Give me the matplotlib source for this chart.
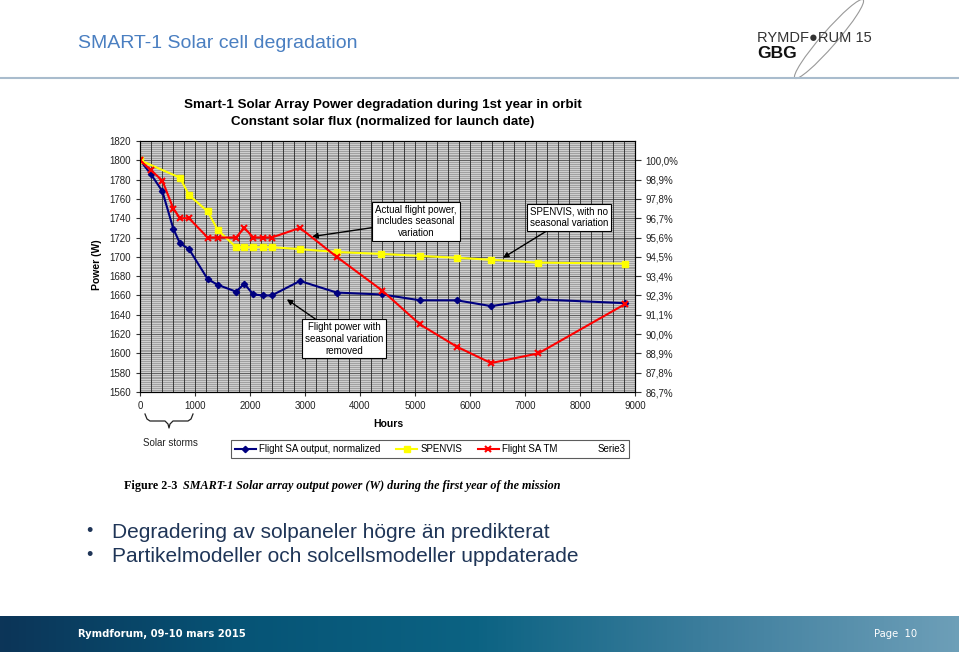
import matplotlib
matplotlib.use("Agg")
import matplotlib.pyplot as plt
import numpy as np
from matplotlib.lines import Line2D
from matplotlib.patches import Ellipse
from matplotlib.colors import LinearSegmentedColormap

plt.rcParams['font.family'] = ['Liberation Sans', 'DejaVu Sans']

# Data (hours, W)
hours = [0, 194, 406, 606, 727, 891, 1230, 1412, 1745, 1897, 2061, 2243, 2394,
         2909, 3576, 4406, 5091, 5758, 6382, 7242, 8818]
flight_norm = [1800, 1786, 1768, 1729, 1714, 1708, 1677, 1671, 1664, 1672, 1661,
               1660, 1660, 1675, 1663, 1661, 1655, 1655, 1649, 1656, 1652]
flight_tm = [1800, 1790, 1779, 1750, 1740, 1740, 1720, 1720, 1720, 1730, 1720,
             1720, 1720, 1730, 1700, 1665, 1630, 1607, 1590, 1600, 1651]
spenvis_hours = [0, 727, 891, 1230, 1412, 1745, 1897, 2061, 2243, 2394, 2909,
                 3576, 4390, 5085, 5758, 6382, 7242, 8818]
spenvis = [1800, 1782, 1764, 1747, 1728, 1710, 1710, 1710, 1710, 1710, 1708,
           1705, 1703, 1701, 1699, 1697, 1694, 1693]

left_ticks = list(range(1560, 1821, 20))
x_ticks = list(range(0, 9001, 1000))
right_ticks = list(range(1560, 1801, 20))
right_labels = ["86,7%", "87,8%", "88,9%", "90,0%", "91,1%", "92,3%", "93,4%",
                "94,5%", "95,6%", "96,7%", "97,8%", "98,9%", "100,0%"]

W, H = 959, 661
fig = plt.figure(figsize=(W / 100, H / 100), dpi=100)


def px(x, y):
    return x / W, 1 - y / H


# header
fig.text(*px(78, 44), "SMART-1 Solar cell degradation", fontsize=14,
         color='#4a7fc1', va='center', ha='left')
fig.add_artist(Line2D([0, 1], [1 - 78 / H] * 2, transform=fig.transFigure,
                      color='#a9bccd', lw=1.5))

# logo
fig.text(*px(757, 38), "RYMDF\u25cfRUM 15", fontsize=10.5, color='#333333',
         va='center', ha='left')
fig.text(*px(757, 53), "GBG", fontsize=12.5, color='#111111', va='center',
         ha='left', fontweight='bold')
ell = Ellipse((829, H - 39), 104, 15, angle=49, fill=False,
              edgecolor='#999999', lw=0.8, transform=None)
fig.add_artist(ell)

# chart title
fig.text(*px(383, 105), "Smart-1 Solar Array Power degradation during 1st year in orbit",
         fontsize=9.6, fontweight='bold', ha='center', va='center')
fig.text(*px(383, 122), "Constant solar flux (normalized for launch date)",
         fontsize=9.6, fontweight='bold', ha='center', va='center')

# plot
ax = fig.add_axes([140 / W, 1 - 392 / H, 495 / W, 251 / H])
ax.set_facecolor('#cfcfcf')
ax.set_xlim(0, 9000)
ax.set_ylim(1560, 1820)
for yv in np.arange(1560, 1821, 2):
    ax.axhline(yv, color='#858585', lw=0.45, zorder=0)
for yv in left_ticks:
    ax.axhline(yv, color='#555555', lw=0.6, zorder=0)
for xv in np.arange(0, 9001, 200):
    ax.axvline(xv, color='#262626', lw=0.6, zorder=0)

ax.plot(hours, flight_norm, color='#000080', lw=1.5, marker='D', ms=3.2,
        label='Flight SA output, normalized', zorder=3)
ax.plot(spenvis_hours, spenvis, color='#ffff00', lw=1.5, marker='s', ms=4.5,
        label='SPENVIS', zorder=3)
ax.plot(hours, flight_tm, color='#ff0000', lw=1.5, marker='x', ms=5, mew=1.5,
        label='Flight SA TM', zorder=3)

ax.set_xticks(x_ticks)
ax.set_yticks(left_ticks)
ax.tick_params(labelsize=7, length=3, color='#333333', labelcolor='#222222')
for s in ax.spines.values():
    s.set_color('#222222')
    s.set_linewidth(0.8)

ax2 = ax.twinx()
ax2.set_ylim(1560, 1820)
ax2.set_yticks(right_ticks)
ax2.set_yticklabels(right_labels)
ax2.tick_params(labelsize=7, length=4, color='#333333', labelcolor='#222222')

fig.text(*px(97, 265), "Power (W)", rotation=90, fontsize=7.5,
         fontweight='bold', ha='center', va='center')
fig.text(*px(388, 424), "Hours", fontsize=7.5, fontweight='bold',
         ha='center', va='center')

# annotations
box = dict(boxstyle='square,pad=0.3', fc='white', ec='black', lw=0.8)
arr = dict(arrowstyle='-|>', color='black', lw=1.0, mutation_scale=8,
           shrinkA=0, shrinkB=0)
ax.annotate("Actual flight power,\nincludes seasonal\nvariation",
            xy=(3130, 1721), xytext=(5020, 1737), fontsize=7,
            ha='center', va='center', bbox=box, arrowprops=arr, zorder=5)
ax.annotate("SPENVIS, with no\nseasonal variation",
            xy=(6600, 1699), xytext=(7800, 1741), fontsize=7,
            ha='center', va='center', bbox=box, arrowprops=arr, zorder=5)
ax.annotate("Flight power with\nseasonal variation\nremoved",
            xy=(2670, 1656), xytext=(3710, 1615), fontsize=7,
            ha='center', va='center', bbox=box, arrowprops=arr, zorder=5)

# solar storms brace
bx = [145, 147, 150, 165, 168, 169, 170, 173, 188, 191, 193]
by = [414, 419, 421, 421, 424, 428, 424, 421, 421, 419, 414]
fig.add_artist(Line2D([x / W for x in bx], [1 - y / H for y in by],
                      transform=fig.transFigure, color='#222222', lw=0.9))
fig.text(*px(170, 443), "Solar storms", fontsize=7, ha='center', va='center',
         color='#222222')

# legend
handles, labels = ax.get_legend_handles_labels()
handles.append(Line2D([], [], color='none'))
labels.append('Serie3')
leg = fig.legend(handles, labels, loc='center', bbox_to_anchor=px(430, 449),
                 ncol=4, fontsize=7, frameon=True, fancybox=False,
                 edgecolor='#333333', handlelength=2.2, columnspacing=1.6,
                 borderpad=0.4, handletextpad=0.3)
leg.get_frame().set_linewidth(0.8)

# caption
serif = ['Liberation Serif', 'DejaVu Serif']
fig.text(*px(124, 486), "Figure 2-3 ", fontsize=8.7, fontweight='bold',
         family=serif, ha='left', va='center')
fig.text(*px(183, 486),
         "SMART-1 Solar array output power (W) during the first year of the mission",
         fontsize=8.7, fontweight='bold', style='italic',
         family=serif, ha='left', va='center')

# bullets
bullet_col = '#1f3557'
for yb, t in [(532, "Degradering av solpaneler högre än predikterat"),
              (556, "Partikelmodeller och solcellsmodeller uppdaterade")]:
    fig.text(*px(86, yb), "\u2022", fontsize=13, color=bullet_col,
             ha='left', va='center')
    fig.text(*px(112, yb), t, fontsize=15, color=bullet_col, ha='left',
             va='center')

# footer gradient bar
fax = fig.add_axes([0, 1 - 652 / H, 1, 36 / H])
cmap = LinearSegmentedColormap.from_list(
    'foot', ['#0c3558', '#065476', '#0c6383', '#3f7f9e', '#6d9fb8'])
fax.imshow(np.linspace(0, 1, 256)[None, :], aspect='auto', cmap=cmap,
           extent=[0, 1, 0, 1])
fax.axis('off')
fig.text(*px(78, 634), "Rymdforum, 09-10 mars 2015", fontsize=8,
         fontweight='bold', color='white', ha='left', va='center',
         family='DejaVu Sans', fontstretch='condensed')
fig.text(*px(917, 634), "Page  10", fontsize=8, color='white',
         ha='right', va='center', family='DejaVu Sans',
         fontstretch='condensed')

fig.savefig("out.png", dpi=100)
